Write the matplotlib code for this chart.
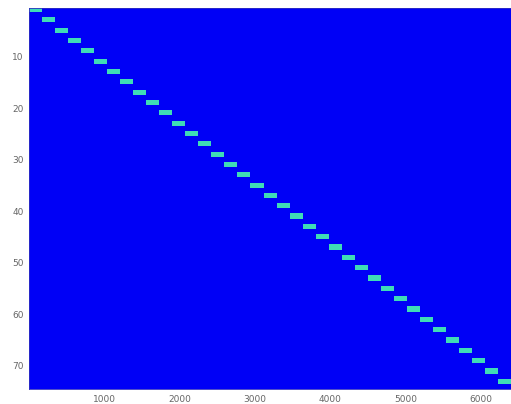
import numpy as np
import matplotlib
matplotlib.use("Agg")
import matplotlib.pyplot as plt
from matplotlib.colors import ListedColormap

# matrix size (rows x columns)
N_ROWS = 74
N_COLS = 6400

# rows holding a nonzero block (1-based) and block column ranges
block_rows = [1, 3, 5, 7, 9, 11, 13, 15, 17, 19, 21, 23, 25, 27, 29, 31, 33, 35, 37,
              39, 41, 43, 45, 47, 49, 51, 53, 55, 57, 59, 61, 63, 65, 67, 69, 71, 73]
block_start = [0, 173, 346, 519, 692, 865, 1038, 1211, 1384, 1557, 1730, 1903, 2076,
               2249, 2422, 2595, 2768, 2941, 3114, 3287, 3460, 3633, 3806, 3979, 4152,
               4325, 4498, 4671, 4844, 5017, 5190, 5363, 5536, 5709, 5882, 6055, 6228]
block_len = 173

x_ticks = [1000, 2000, 3000, 4000, 5000, 6000]
y_ticks = [10, 20, 30, 40, 50, 60, 70]

M = np.zeros((N_ROWS, N_COLS))
for r, s in zip(block_rows, block_start):
    M[r - 1, s:s + block_len] = 1.0

cmap = ListedColormap(["#0000f6", "#3fdcb6"])

fig = plt.figure(figsize=(5.11, 4.04), dpi=100)
ax = fig.add_axes([0.057, 0.037, 0.943, 0.944])
ax.imshow(M, cmap=cmap, aspect="auto", interpolation="nearest",
          extent=(0.5, N_COLS + 0.5, N_ROWS + 0.5, 0.5), vmin=0, vmax=1)
ax.set_xticks(x_ticks)
ax.set_yticks(y_ticks)
ax.tick_params(direction="in", length=0, labelsize=6.5, labelcolor="#666666", pad=4)
for sp in ax.spines.values():
    sp.set_color("#3030c0")
    sp.set_linewidth(0.6)

fig.savefig("out.png", dpi=100)
